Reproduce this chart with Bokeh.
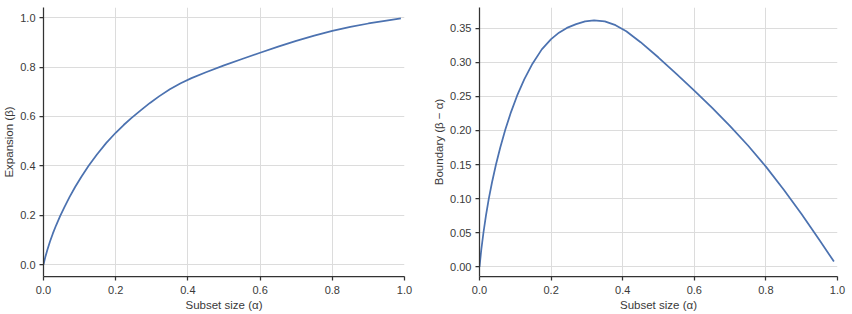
from bokeh.plotting import figure
from bokeh.layouts import row
from bokeh.models import FixedTicker, PrintfTickFormatter, Range1d
from bokeh.embed import file_html
from bokeh.resources import INLINE

# Values
alpha = [0.0, 0.005, 0.011, 0.018, 0.026, 0.035, 0.046, 0.058, 0.072, 0.088,
         0.105, 0.125, 0.148, 0.174, 0.2, 0.222, 0.244, 0.27, 0.295, 0.32,
         0.35, 0.38, 0.41, 0.45, 0.5, 0.55, 0.6, 0.65, 0.7, 0.75,
         0.8, 0.85, 0.9, 0.95, 0.99]

expansion = [0.0, 0.030, 0.061, 0.093, 0.126, 0.159, 0.196, 0.233, 0.273, 0.315,
             0.356, 0.400, 0.446, 0.493, 0.534, 0.5655, 0.5945, 0.626, 0.655, 0.6815,
             0.710, 0.7345, 0.7555, 0.7795, 0.807, 0.833, 0.8585, 0.883, 0.9065, 0.928,
             0.947, 0.963, 0.977, 0.989, 0.9977]

boundary = [0.0, 0.025, 0.05, 0.075, 0.10, 0.124, 0.150, 0.175, 0.201, 0.227,
            0.251, 0.275, 0.298, 0.319, 0.334, 0.3435, 0.3505, 0.356, 0.360, 0.3615,
            0.360, 0.3545, 0.3455, 0.3295, 0.307, 0.283, 0.2585, 0.233, 0.2065, 0.178,
            0.147, 0.113, 0.077, 0.039, 0.0077]

x_ticks = [0.0, 0.2, 0.4, 0.6, 0.8, 1.0]
y1_ticks = [0.0, 0.2, 0.4, 0.6, 0.8, 1.0]
y2_ticks = [0.0, 0.05, 0.10, 0.15, 0.20, 0.25, 0.30, 0.35]

LINE = "#4c72b0"
TXT = "#3a3a3a"
FONT = "Liberation Sans"


def style(p, yticks, yfmt):
    p.outline_line_color = None
    p.xaxis.ticker = FixedTicker(ticks=x_ticks)
    p.yaxis.ticker = FixedTicker(ticks=yticks)
    p.xaxis.formatter = PrintfTickFormatter(format="%.1f")
    p.yaxis.formatter = PrintfTickFormatter(format=yfmt)
    for ax in (p.xaxis, p.yaxis):
        ax.axis_line_color = "#333333"
        ax.axis_line_width = 1.25
        ax.major_tick_line_color = "#333333"
        ax.major_tick_line_width = 1.25
        ax.major_tick_out = 4
        ax.major_tick_in = 0
        ax.minor_tick_line_color = None
        ax.major_label_text_font = FONT
        ax.major_label_text_font_size = "11px"
        ax.major_label_text_color = TXT
        ax.axis_label_text_font = FONT
        ax.axis_label_text_font_size = "11.5px"
        ax.axis_label_text_font_style = "normal"
        ax.axis_label_text_color = TXT
        ax.axis_label_standoff = 2
    p.xaxis.major_label_standoff = 5
    p.yaxis.major_label_standoff = 4
    p.xgrid.grid_line_color = "#dcdcdc"
    p.ygrid.grid_line_color = "#dcdcdc"
    p.xgrid.ticker = FixedTicker(ticks=x_ticks)
    p.ygrid.ticker = FixedTicker(ticks=yticks)


p1 = figure(width=430, height=314, output_backend="svg", toolbar_location=None,
            x_range=Range1d(0.0, 1.0), y_range=Range1d(-0.0486, 1.0418),
            min_border_left=43, min_border_right=26, min_border_top=7,
            min_border_bottom=38)
p1.line(alpha, expansion, line_color=LINE, line_width=1.75, line_join="round")
p1.xaxis.axis_label = "Subset size (α)"
p1.yaxis.axis_label = "Expansion (β)"
style(p1, y1_ticks, "%.1f")

p2 = figure(width=422, height=314, output_backend="svg", toolbar_location=None,
            x_range=Range1d(0.0, 1.0), y_range=Range1d(-0.0142, 0.3804),
            min_border_left=49, min_border_right=15, min_border_top=7,
            min_border_bottom=38)
p2.line(alpha, boundary, line_color=LINE, line_width=1.75, line_join="round")
p2.xaxis.axis_label = "Subset size (α)"
p2.yaxis.axis_label = "Boundary (β − α)"
style(p2, y2_ticks, "%.2f")

layout = row(p1, p2)
open("out.html", "w").write(file_html(layout, INLINE))
